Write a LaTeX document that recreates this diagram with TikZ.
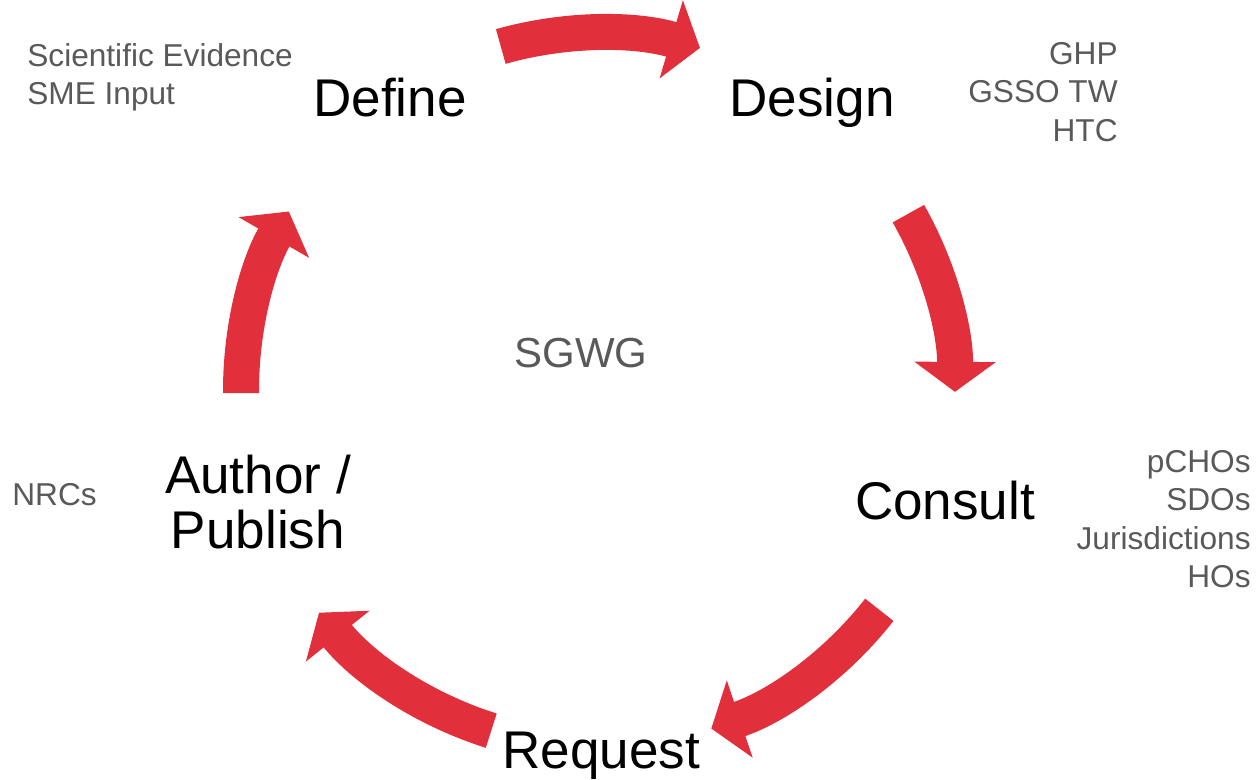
\documentclass[tikz,border=0pt]{standalone}
\usepackage{fontspec}
\setmainfont{Liberation Sans}
\usetikzlibrary{arrows.meta}
\definecolor{cycred}{RGB}{225,47,60}
\definecolor{notegray}{RGB}{89,89,89}
\begin{document}
\begin{tikzpicture}[x=0.02cm,y=0.02cm,
    stage/.style={font=\fontsize{30.2}{31.3}\selectfont,align=center,inner sep=0},
    note/.style={notegray,font=\fontsize{18}{21.9}\selectfont,inner sep=0},
    cyc/.style={cycred,line width=0.72cm,-{Triangle[width=1.6cm,length=0.6cm]}}]
	\useasboundingbox (0,0) rectangle (1258,779);
	\coordinate (o) at (598,389);
	% stages
	\node[stage,anchor=base] (define) at (390,663) {Define};
	\node[stage,anchor=base] (design) at (812,662) {Design};
	\node[stage,anchor=base] (consult) at (945,260) {Consult};
	\node[stage,anchor=base] (request) at (601,11) {Request};
	\node[stage] (author) at (258,277) {Author /\\Publish};
	\node[note,font=\fontsize{23.9}{28}\selectfont,anchor=base] (sgwg) at (581,412) {SGWG};
	% inputs
	\node[note,align=left,anchor=north west] (sci) at (27,736) {Scientific Evidence\\SME Input};
	\node[note,align=right,anchor=north east] (ghp) at (1118,737) {GHP\\GSSO TW\\HTC};
	\node[note,align=right,anchor=north east] (pcho) at (1251,329) {pCHOs\\SDOs\\Jurisdictions\\HOs};
	\node[note,anchor=base west] (nrc) at (12,274) {NRCs};
	% cycle
	\draw[cyc] (o) ++(105.8:357) arc[start angle=105.8,end angle=73.4,radius=357];
	\draw[cyc] (o) ++(29.6:357) arc[start angle=29.6,end angle=-0.3,radius=357];
	\draw[cyc] (o) ++(-38:357) arc[start angle=-38,end angle=-71.5,radius=357];
	\draw[cyc] (o) ++(-107.4:357) arc[start angle=-107.4,end angle=-141.4,radius=357];
	\draw[cyc] (o) ++(-179.5:357) arc[start angle=-179.5,end angle=-210,radius=357];
\end{tikzpicture}
\end{document}
